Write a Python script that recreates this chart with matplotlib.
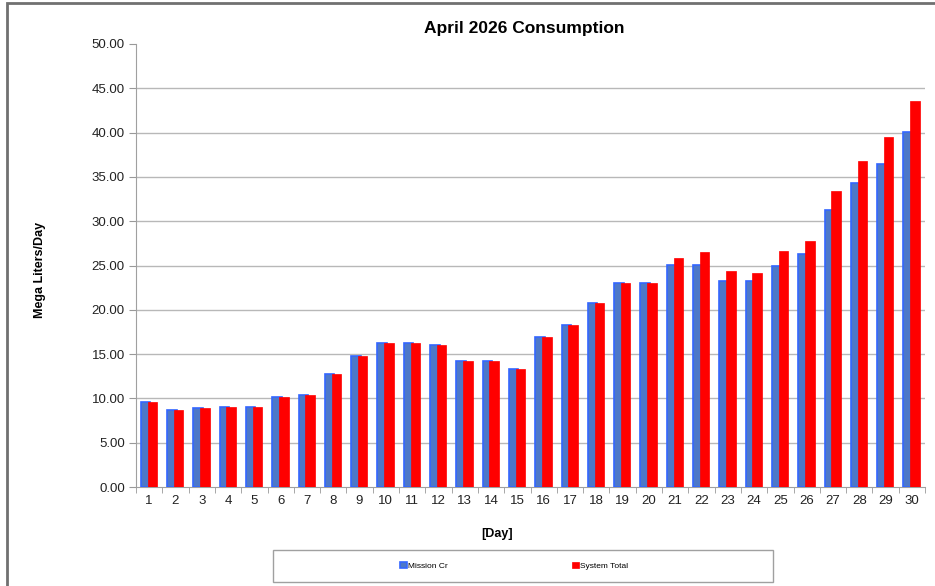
import matplotlib.pyplot as plt
from matplotlib.ticker import MultipleLocator, FixedLocator
from matplotlib.patches import Rectangle
import numpy as np

plt.rcParams['font.family'] = ['Liberation Sans', 'DejaVu Sans']

# Days of April
days = list(range(1, 31))

# Daily consumption in Mega Liters/Day
mission_cr = [9.6, 8.7, 8.95, 9.0, 9.0, 10.2, 10.4, 12.7, 14.8, 16.2,
              16.2, 16.05, 14.25, 14.25, 13.3, 16.97, 18.3, 20.8, 23.0, 23.0,
              25.05, 25.05, 23.2, 23.2, 24.9, 26.3, 31.3, 34.3, 36.5, 40.1]
system_total = [9.6, 8.7, 8.95, 9.0, 9.0, 10.2, 10.4, 12.7, 14.8, 16.2,
                16.2, 16.05, 14.25, 14.25, 13.3, 16.97, 18.3, 20.8, 23.0, 23.0,
                25.8, 26.5, 24.4, 24.2, 26.6, 27.8, 33.4, 36.8, 39.5, 43.6]

# Figure size in pixels / dpi
DPI = 100
FIG_W = 935
FIG_H = 586

BLUE_FACE = '#4d78c8'
BLUE_EDGE = '#3366ff'
RED = '#ff0000'

fig = plt.figure(figsize=(FIG_W / DPI, FIG_H / DPI), dpi=DPI)
ax = fig.add_axes([136 / FIG_W, 1 - 487 / FIG_H, (925 - 136) / FIG_W, (487 - 44) / FIG_H])

# outer frame of the chart (left and top visible)
fig.add_artist(Rectangle((7 / FIG_W, -0.05), 1.2, 1 - 3 / FIG_H + 0.05,
                         transform=fig.transFigure, fill=False,
                         edgecolor='#707070', linewidth=2))

x = np.arange(len(days))
bw = 0.36
ax.bar(x - 0.14, mission_cr, width=bw, color=BLUE_FACE, edgecolor=BLUE_EDGE,
       linewidth=1.2, label='Mission Cr', zorder=3)
ax.bar(x + 0.12, system_total, width=bw, color=RED, edgecolor=RED,
       linewidth=0.5, label='System Total', zorder=4)

ax.set_xlim(-0.5, len(days) - 0.5)
ax.set_ylim(0, 50)
ax.yaxis.set_major_locator(MultipleLocator(5))
ax.set_yticklabels([f'{v:.2f}' for v in ax.get_yticks()], fontsize=9.5, color='#222222')
ax.set_xticks(x)
ax.set_xticklabels([str(d) for d in days], fontsize=9.5, color='#222222')
ax.xaxis.set_minor_locator(FixedLocator(np.arange(-0.5, len(days), 1)))
ax.tick_params(axis='x', which='major', length=0, pad=6)
ax.tick_params(axis='x', which='minor', length=4, color='#999999')
ax.tick_params(axis='y', length=5, color='#999999', pad=3)

# horizontal grid lines, none at the top
for v in range(5, 50, 5):
    ax.axhline(v, color='#b8b8b8', linewidth=1, zorder=1)

for side in ['top', 'right']:
    ax.spines[side].set_visible(False)
ax.spines['left'].set_color('#a0a0a0')
ax.spines['bottom'].set_color('#a0a0a0')

fig.text(524 / FIG_W, 1 - 29 / FIG_H, 'April 2026 Consumption', ha='center',
         va='center', fontsize=12.5, fontweight='bold')
fig.text(40 / FIG_W, 1 - 270 / FIG_H, 'Mega Liters/Day', ha='center', va='center',
         rotation=90, fontsize=9, fontweight='bold')
fig.text(497 / FIG_W, 1 - 534 / FIG_H, '[Day]', ha='center', va='center',
         fontsize=9, fontweight='bold')

# legend box
fig.add_artist(Rectangle((273 / FIG_W, 1 - 582 / FIG_H), 500 / FIG_W, 32 / FIG_H,
                         transform=fig.transFigure, fill=False,
                         edgecolor='#a0a0a0', linewidth=1))
leg = fig.legend(loc='center', bbox_to_anchor=(514 / FIG_W, 1 - 566 / FIG_H),
                 ncol=2, fontsize=6, frameon=False,
                 handlelength=0.8, handleheight=0.8, handletextpad=0.1,
                 columnspacing=15, borderaxespad=0)

plt.savefig('out.png', dpi=DPI)
